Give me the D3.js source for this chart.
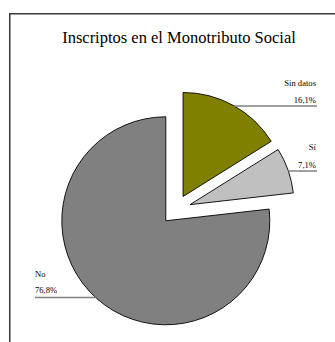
<!DOCTYPE html>
<html>
<head>
<meta charset="utf-8">
<script src="https://cdn.jsdelivr.net/npm/d3@7"></script>
<style>
  html, body { margin: 0; padding: 0; background: #fff; }
  svg { display: block; }
  text { font-family: "Liberation Serif", "DejaVu Serif", serif; fill: #000; }
</style>
</head>
<body>
<svg id="chart" width="335" height="342"></svg>
<script>
// Share of people registered in the Monotributo Social
const categories = ["Sin datos", "Sí", "No"];
const values = [16.1, 7.1, 76.8];
const valueLabels = ["16,1%", "7,1%", "76,8%"];
const colors = ["#808000", "#c0c0c0", "#808080"];

const title = "Inscriptos en el Monotributo Social";

const cx = 175.8, cy = 209.6, radius = 104, explode = 15;

const svg = d3.select("#chart");

// chart area frame (runs past the visible window on the right and bottom)
svg.append("rect")
  .attr("x", 9.75).attr("y", 13.75)
  .attr("width", 420).attr("height", 420)
  .attr("fill", "none")
  .attr("stroke", "#3a3a3a")
  .attr("stroke-width", 1.5);

svg.append("text")
  .attr("x", 179).attr("y", 43)
  .attr("text-anchor", "middle")
  .attr("font-size", 16.5)
  .text(title);

const pie = d3.pie().sort(null).value(d => d.value);
const data = categories.map((c, i) => ({ name: c, value: values[i], label: valueLabels[i], color: colors[i] }));
const arcs = pie(data);
const arc = d3.arc().innerRadius(0).outerRadius(radius);

// slice centres after pulling each slice out along its mid-angle
arcs.forEach(a => {
  const mid = (a.startAngle + a.endAngle) / 2;
  a.ox = cx + explode * Math.sin(mid);
  a.oy = cy - explode * Math.cos(mid);
});

svg.append("g").selectAll("path")
  .data(arcs)
  .join("path")
  .attr("transform", d => `translate(${d.ox},${d.oy})`)
  .attr("d", arc)
  .attr("fill", d => d.data.color)
  .attr("stroke", "#000")
  .attr("stroke-width", 0.9)
  .attr("stroke-linejoin", "miter");

// label layout: name baseline, value baseline, leader line y, outer end x, anchor side
const labelLayout = {
  "Sin datos": { nameY: 86, valueY: 103, lineY: 106, x: 317, side: "right" },
  "Sí":        { nameY: 150, valueY: 168, lineY: 171, x: 317, side: "right" },
  "No":        { nameY: 277, valueY: 293, lineY: 297.5, x: 35, side: "left" }
};

arcs.forEach(a => {
  const L = labelLayout[a.data.name];
  const dy = L.lineY - a.oy;
  const half = Math.sqrt(Math.max(0, radius * radius - dy * dy));
  const edgeX = L.side === "right" ? a.ox + half : a.ox - half;
  const anchor = L.side === "right" ? "end" : "start";
  const tx = L.side === "right" ? L.x - 1 : L.x;

  svg.append("line")
    .attr("x1", edgeX).attr("x2", L.x)
    .attr("y1", L.lineY).attr("y2", L.lineY)
    .attr("stroke", "#808080")
    .attr("stroke-width", 1.5);

  svg.append("text")
    .attr("x", tx).attr("y", L.nameY)
    .attr("text-anchor", anchor)
    .attr("font-size", 8.6)
    .text(a.data.name);

  svg.append("text")
    .attr("x", tx).attr("y", L.valueY)
    .attr("text-anchor", anchor)
    .attr("font-size", 8.6)
    .text(a.data.label);
});
</script>
</body>
</html>
